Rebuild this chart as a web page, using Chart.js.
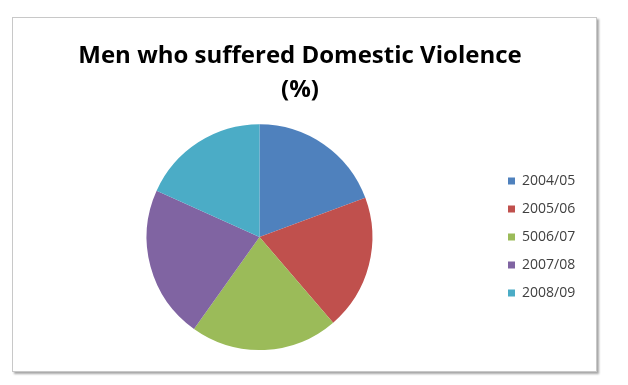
<!DOCTYPE html>
<html>
<head>
<meta charset="utf-8">
<script src="https://cdn.jsdelivr.net/npm/chart.js@4.4.1/dist/chart.umd.min.js"></script>
<style>
  html, body { margin: 0; padding: 0; background: #fff; }
  #frame {
    position: absolute; left: 12px; top: 17px; width: 583px; height: 353px;
    border: 1px solid #c8c8c8;
    box-shadow: 2px 2px 2px rgba(0, 0, 0, 0.35);
  }
  #wrap { position: absolute; left: 0; top: 0; width: 628px; height: 385px; }
</style>
</head>
<body>
<div id="frame"></div>
<div id="wrap"><canvas id="myChart" width="628" height="385"></canvas></div>
<script>
// values (clockwise from 12 o'clock)
const years = ['2004/05', '2005/06', '5006/07', '2007/08', '2008/09']
const percentMen = [5.3, 5.3, 5.8, 6.0, 5.0]
const sliceColors = ['#4F81BD', '#C0504D', '#9BBB59', '#8064A2', '#4BACC6']
const titleLines = ['Men who suffered Domestic Violence', '(%)']

const ctx = document.getElementById('myChart').getContext('2d')
const myPie = new Chart(ctx, {
  type: 'pie',
  data: {
    labels: years,
    datasets: [{
      data: percentMen,
      backgroundColor: sliceColors,
      borderColor: sliceColors,
      borderWidth: 0
    }]
  },
  options: {
    responsive: false,
    animation: false,
    layout: {
      padding: { left: 25, right: 53, top: 0, bottom: 35 }
    },
    plugins: {
      title: {
        display: true,
        text: titleLines,
        color: '#000',
        font: { family: 'Open Sans', size: 24, weight: 'bold', lineHeight: 1.38 },
        padding: { top: 40, bottom: 18 }
      },
      legend: {
        position: 'right',
        fullSize: false,
        maxWidth: 81,
        labels: {
          boxWidth: 7,
          boxHeight: 7,
          padding: 14,
          color: '#404040',
          font: { family: 'Open Sans', size: 14 }
        }
      },
      tooltip: { enabled: false }
    }
  }
})
</script>
</body>
</html>
